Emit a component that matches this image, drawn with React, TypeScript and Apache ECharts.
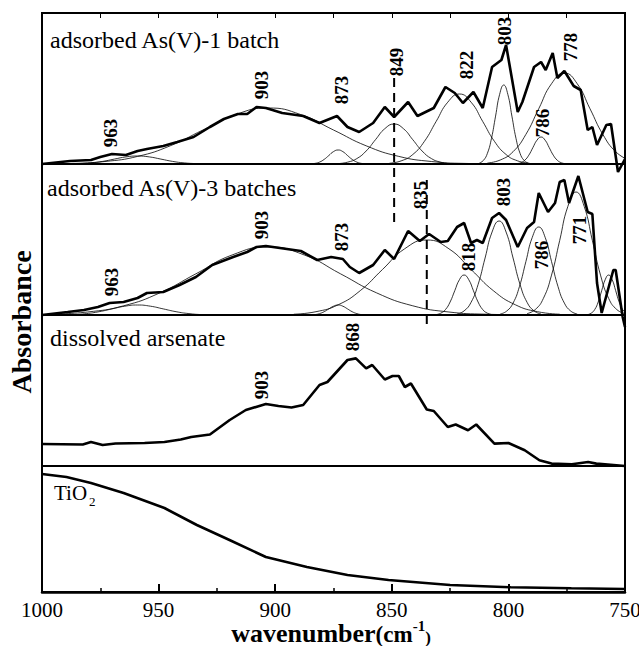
import React, { useEffect, useRef } from 'react';
import * as echarts from 'echarts';

type P = [number, number];

// ---- Panel 1: adsorbed As(V)-1 batch ----
const batch1Main: P[] = [
  [1000, 0], [988, 3], [979, 4], [975, 7], [970, 10], [964, 9], [959, 13], [955, 15], [948, 18], [942, 22],
  [935, 27], [928, 37], [922, 45], [916, 50], [912, 50], [908, 57], [904, 56], [897, 51], [888, 48], [881, 41],
  [873.5, 48], [869, 37], [864, 32], [858, 41], [853, 57], [849, 47], [843, 62], [839, 48], [832, 56], [827, 77],
  [823, 71], [819.5, 61], [815, 72], [811, 56], [807, 97], [803, 104], [801, 119], [796, 52], [794, 62], [789, 97],
  [786, 102], [784, 94], [781, 111], [779, 86], [776, 93], [772, 78], [769, 74], [766, 34], [764, 37], [762, 19],
  [758, 39], [756, 40], [753, -8], [750, 5],
];
const b1c963: P[] = [[989, 0.1], [984, 0.4], [979, 1.1], [974, 2.6], [969, 4.9], [964, 7.1], [959, 8], [954, 7.1], [949, 4.9], [944, 2.6], [939, 1.1], [934, 0.4], [929, 0.1]];
const b1c903: P[] = [[987, 0.6], [973, 2.5], [959, 7.6], [945, 18.2], [931, 34], [917, 49.4], [903, 56], [889, 49.4], [875, 34], [861, 18.2], [847, 7.6], [833, 2.5], [819, 0.6], [800, 0.1]];
const b1c873: P[] = [[885, 0.2], [883, 0.6], [881, 1.9], [879, 4.6], [877, 8.5], [875, 12.4], [873, 14], [871, 12.4], [869, 8.5], [867, 4.6], [865, 1.9], [863, 0.6], [861, 0.2]];
const b1c849: P[] = [[873, 0.4], [869, 1.8], [865, 5.4], [861, 13], [857, 24.3], [853, 35.3], [849, 40], [845, 35.3], [841, 24.3], [837, 13], [833, 5.4], [829, 1.8], [825, 0.4]];
const b1c822: P[] = [[851, 0.8], [846, 3.1], [841, 9.5], [836, 22.7], [831, 42.5], [826, 61.8], [821, 70], [816, 61.8], [811, 42.5], [806, 22.7], [801, 9.5], [796, 3.1], [791, 0.8]];
const b1c803: P[] = [[812.5, 0.9], [810.75, 3.5], [809, 10.7], [807.25, 25.7], [805.5, 47.9], [803.75, 69.7], [802, 79], [800.25, 69.7], [798.5, 47.9], [796.75, 25.7], [795, 10.7], [793.25, 3.5], [791.5, 0.9]];
const b1c786: P[] = [[796.5, 0.3], [794.75, 1.2], [793, 3.7], [791.25, 8.8], [789.5, 16.4], [787.75, 23.8], [786, 27], [784.25, 23.8], [782.5, 16.4], [780.75, 8.8], [779, 3.7], [777.25, 1.2], [775.5, 0.3]];
const b1c778: P[] = [[809, 1], [803.5, 4], [798, 12.3], [792.5, 29.6], [787, 55.2], [781.5, 80.3], [776, 91], [770.5, 80.3], [765, 55.2], [759.5, 29.6], [754, 12.3], [748.5, 4]];
const b1Peaks: [number, number, string][] = [
  [970.8, 31, '963'], [905.7, 79, '903'], [871.4, 74, '873'], [847.8, 102, '849'],
  [817.8, 99, '822'], [801.5, 133, '803'], [785.2, 41, '786'], [773.2, 117, '778'],
];
const b1Dash: P[] = [[849, 86], [849, -63]];

// ---- Panel 2: adsorbed As(V)-3 batches ----
const batch3Main: P[] = [
  [1000, 0], [989, 3], [982, 5], [976, 8], [971, 12], [965, 13], [959, 17], [955, 22], [948, 23], [941, 30],
  [934, 38], [927, 50], [918, 58], [912, 63], [908, 68], [904, 69], [895, 66], [889, 64], [882, 55], [876, 58],
  [871, 56], [868, 48], [864, 42], [858, 50], [853, 65], [849, 56], [843, 84], [838, 74], [834, 81], [829, 73],
  [826, 74], [822, 88], [819, 92], [816, 72], [813.5, 75], [811, 72], [807, 97], [804, 102], [801, 95], [796, 68],
  [792, 87], [789, 93], [787, 122], [783, 103], [780, 112], [778, 133], [776, 135], [774, 112], [770, 139], [766, 103],
  [764, 101], [762, 32], [760, 2], [755, 45], [754, 45], [751, -2], [750, -12],
];
const b3c963: P[] = [[992, 0.1], [986.5, 0.4], [981, 1.4], [975.5, 3.3], [970, 6.1], [964.5, 8.8], [959, 10], [953.5, 8.8], [948, 6.1], [942.5, 3.3], [937, 1.4], [931.5, 0.4], [926, 0.1]];
const b3c903: P[] = [[996, 0.8], [980.5, 3], [965, 9.2], [949.5, 22.1], [934, 41.2], [918.5, 60], [903, 68], [887.5, 60], [872, 41.2], [856.5, 22.1], [841, 9.2], [825.5, 3], [810, 0.8], [790, 0.1]];
const b3c873: P[] = [[885, 0.1], [883, 0.4], [881, 1.4], [879, 3.3], [877, 6.1], [875, 8.8], [873, 10], [871, 8.8], [869, 6.1], [867, 3.3], [865, 1.4], [863, 0.4], [861, 0.1]];
const b3c835: P[] = [[892, 0.8], [882.5, 3.3], [873, 10.2], [863.5, 24.4], [854, 45.5], [844.5, 66.2], [835, 75], [825.5, 66.2], [816, 45.5], [806.5, 24.4], [797, 10.2], [787.5, 3.3], [778, 0.8]];
const b3c818: P[] = [[831, 0.4], [829, 1.8], [827, 5.4], [825, 13], [823, 24.3], [821, 35.3], [819, 40], [817, 35.3], [815, 24.3], [813, 13], [811, 5.4], [809, 1.8], [807, 0.4]];
const b3c803: P[] = [[822, 1], [819, 4.1], [816, 12.7], [813, 30.5], [810, 57], [807, 83], [804, 94], [801, 83], [798, 57], [795, 30.5], [792, 12.7], [789, 4.1], [786, 1]];
const b3c786: P[] = [[803.5, 1], [800.75, 3.9], [798, 11.9], [795.25, 28.6], [792.5, 53.4], [789.75, 77.7], [787, 88], [784.25, 77.7], [781.5, 53.4], [778.75, 28.6], [776, 11.9], [773.25, 3.9], [770.5, 1]];
const b3c771: P[] = [[792, 1.4], [788.5, 5.4], [785, 16.6], [781.5, 39.9], [778, 74.6], [774.5, 108.6], [771, 123], [767.5, 108.6], [764, 74.6], [760.5, 39.9], [757, 16.6], [753.5, 5.4], [750, 1.4]];
const b3c757: P[] = [[766, 0.4], [764.5, 1.8], [763, 5.4], [761.5, 13], [760, 24.3], [758.5, 35.3], [757, 40], [755.5, 35.3], [754, 24.3], [752.5, 13], [751, 5.4], [749.5, 1.8]];
const b3Peaks: [number, number, string][] = [
  [970, 33, '963'], [905.7, 90, '903'], [871.4, 78, '873'], [837.9, 120, '835'],
  [817.3, 58, '818'], [802.3, 123, '803'], [785.6, 60, '786'], [769.3, 85, '771'],
];
const b3Dash: P[] = [[835, 135], [835, -15]];

// ---- Panel 3: dissolved arsenate ----
const dissolvedMain: P[] = [
  [1000, 22], [982.5, 21.5], [979, 24], [974, 21], [968.5, 22.5], [956, 23], [947.5, 24], [940.5, 26.5], [936, 29],
  [928, 31.5], [919.5, 46], [912.6, 56], [904, 62], [898.6, 60], [893, 58.5], [888, 61], [881, 81], [877.6, 84],
  [869, 106], [865.4, 107.6], [861, 97.6], [858.4, 101], [853, 86.5], [849.7, 90], [847, 90], [844.4, 79],
  [841.8, 82.5], [835, 56.5], [832, 55], [826, 39], [822.6, 41.5], [817.3, 35.8], [813.8, 41.5], [806, 22.4],
  [800, 23], [793, 15.7], [786.7, 5.7], [781.5, 2.4], [772.8, 1.7], [765.8, 4], [762.3, 2.4], [750, 0],
];
const dissolvedPeaks: [number, number, string][] = [[905.7, 81, '903'], [866.8, 129, '868']];

// ---- Panel 4: TiO2 ----
const tio2Main: P[] = [
  [1000, 118], [989.5, 115], [979, 109], [965, 99], [947.5, 84], [933.6, 67], [919.6, 52], [904, 35],
  [886.4, 25], [869, 17], [851.4, 12], [825, 7], [799, 4.7], [773, 3.7], [750, 3],
];

const xTicks = { min: 750, max: 1000, major: 50, minor: 25 };
const panelNames = ['adsorbed As(V)-1 batch', 'adsorbed As(V)-3 batches', 'dissolved arsenate'];

const SERIF = "Liberation Serif";

const gridTops = [13, 164, 315, 466];
const gridHeights = [151, 151, 151, 126];

function thick(data: P[], i: number, clip = false) {
  return {
    type: 'line', xAxisIndex: i, yAxisIndex: i, data, showSymbol: false, symbol: 'none', clip,
    lineStyle: { color: '#000', width: 2.6 }, silent: true, z: 5,
  };
}
function thin(data: P[], i: number) {
  return {
    type: 'line', xAxisIndex: i, yAxisIndex: i, data, showSymbol: false, symbol: 'none', smooth: true, clip: true,
    lineStyle: { color: '#000', width: 0.8 }, silent: true, z: 3,
  };
}
function dash(data: P[], i: number) {
  return {
    type: 'line', xAxisIndex: i, yAxisIndex: i, data, showSymbol: false, symbol: 'none', clip: false,
    lineStyle: { color: '#000', width: 2, type: [9, 6] }, silent: true, z: 4,
  };
}
function peaks(data: [number, number, string][], i: number) {
  return {
    type: 'scatter', xAxisIndex: i, yAxisIndex: i, data, symbolSize: 0, clip: false,
    itemStyle: { color: '#000' }, silent: true, z: 6,
    label: {
      show: true, position: 'inside', rotate: 90, formatter: (p: any) => p.data[2],
      fontFamily: SERIF, fontWeight: 'bold', fontSize: 19, color: '#000',
      textBorderWidth: 0, textBorderColor: 'transparent', opacity: 1,
    },
  };
}

export default function App() {
  const ref = useRef<HTMLDivElement>(null);
  useEffect(() => {
    const chart = echarts.init(ref.current!, null, { renderer: 'svg' });
    const grids = gridTops.map((t, i) => ({
      left: 42, width: 583, top: t, height: gridHeights[i], show: true, containLabel: false,
      outerBoundsMode: 'none',
      borderColor: '#000', borderWidth: 2, backgroundColor: 'transparent',
    }));
    const xAxes: any[] = gridTops.map((_, i) => ({
      type: 'value', gridIndex: i, min: xTicks.min, max: xTicks.max, interval: xTicks.major, inverse: true,
      axisLine: { show: i === 3, lineStyle: { color: '#000', width: 2.5 } },
      axisTick: { show: i === 3, inside: true, length: 8, lineStyle: { color: '#000', width: 2 } },
      minorTick: { show: i === 3, splitNumber: 2, length: 4, lineStyle: { color: '#000', width: 1.5 } },
      axisLabel: {
        show: i === 3, color: '#000', fontFamily: SERIF, fontSize: 21, lineHeight: 18, margin: 9,
        formatter: (v: number) => String(v),
      },
      splitLine: { show: false },
    }));
    xAxes.push({
      type: 'value', gridIndex: 0, position: 'top', min: xTicks.min, max: xTicks.max, interval: xTicks.minor, inverse: true,
      axisLine: { show: false }, axisLabel: { show: false }, splitLine: { show: false },
      axisTick: { show: true, inside: true, length: 5, lineStyle: { color: '#000', width: 1 } },
    });
    const yAxes = gridTops.map((_, i) => ({
      type: 'value', gridIndex: i, min: 0, max: gridHeights[i], show: false,
    }));
    const graphic: any[] = [
      {
        type: 'text', x: 21, y: 322, rotation: Math.PI / 2,
        style: { text: 'Absorbance', font: `bold 28px ${SERIF}`, fill: '#000', textAlign: 'center', textVerticalAlign: 'middle' },
      },
      {
        type: 'text', x: 331, y: 632,
        style: {
          text: '{a|wavenumber}{b|(cm}{c|-1}{d|)}',
          textAlign: 'center', textVerticalAlign: 'middle', fill: '#000',
          rich: {
            a: { fontFamily: SERIF, fontWeight: 'bold', fontSize: 26, fill: '#000', lineHeight: 28, verticalAlign: 'bottom' },
            b: { fontFamily: SERIF, fontWeight: 'bold', fontSize: 23, fill: '#000', lineHeight: 28, verticalAlign: 'bottom' },
            c: { fontFamily: SERIF, fontWeight: 'bold', fontSize: 15, fill: '#000', lineHeight: 28, verticalAlign: 'top', padding: [0, 0, 8, 0] },
            d: { fontFamily: SERIF, fontWeight: 'bold', fontSize: 17, fill: '#000', lineHeight: 28, verticalAlign: 'bottom' },
          },
        },
      },
      ...panelNames.map((n, i) => ({
        type: 'text', x: [50, 47, 50][i], y: [40, 188, 338][i],
        style: { text: n, font: `24px ${SERIF}`, fill: '#000', textAlign: 'left', textVerticalAlign: 'middle' },
      })),
      { type: 'text', x: 54, y: 493, style: { text: 'TiO', font: `21px ${SERIF}`, fill: '#000', textAlign: 'left', textVerticalAlign: 'middle' } },
      { type: 'text', x: 89, y: 501, style: { text: '2', font: `13px ${SERIF}`, fill: '#000', textAlign: 'left', textVerticalAlign: 'middle' } },
    ];
    chart.setOption({
      animation: false,
      backgroundColor: '#fff',
      grid: grids,
      xAxis: xAxes,
      yAxis: yAxes,
      graphic,
      series: [
        thin(b1c963, 0), thin(b1c903, 0), thin(b1c873, 0), thin(b1c849, 0), thin(b1c822, 0), thin(b1c803, 0), thin(b1c786, 0), thin(b1c778, 0),
        thick(batch1Main, 0), dash(b1Dash, 0), peaks(b1Peaks, 0),
        thin(b3c963, 1), thin(b3c903, 1), thin(b3c873, 1), thin(b3c835, 1), thin(b3c818, 1), thin(b3c803, 1), thin(b3c786, 1), thin(b3c771, 1), thin(b3c757, 1),
        thick(batch3Main, 1), dash(b3Dash, 1), peaks(b3Peaks, 1),
        thick(dissolvedMain, 2), peaks(dissolvedPeaks, 2),
        thick(tio2Main, 3, true),
      ],
    });
    return () => chart.dispose();
  }, []);
  return <div ref={ref} style={{ position: 'fixed', left: 0, top: 0, width: 639, height: 646, background: '#fff' }} />;
}
